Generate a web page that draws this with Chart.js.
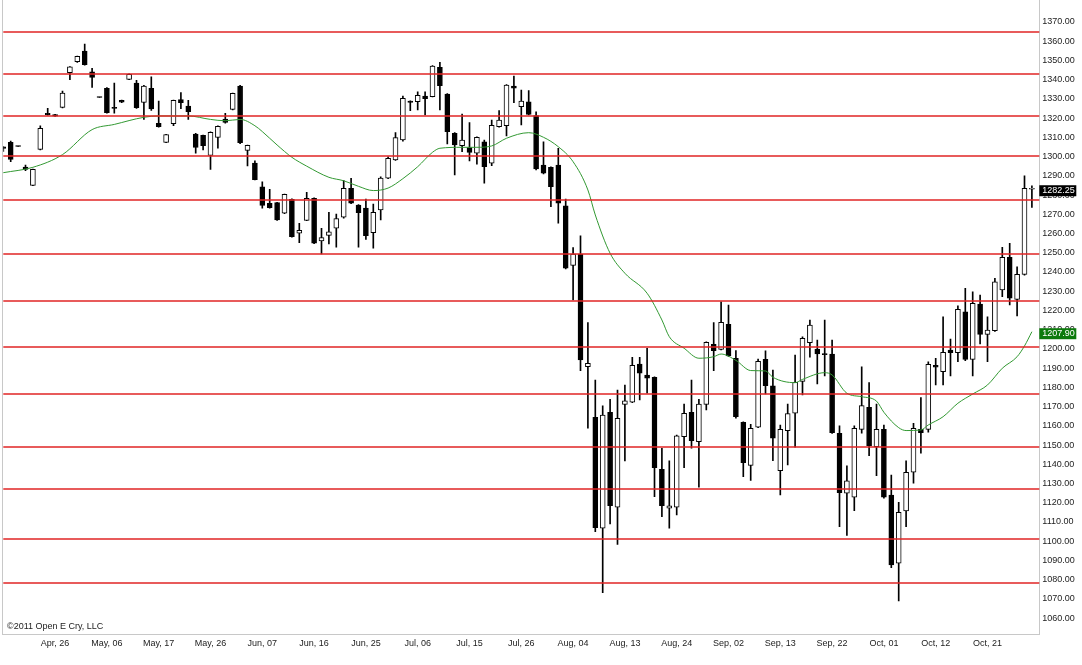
<!DOCTYPE html>
<html>
<head>
<meta charset="utf-8">
<title>Daily candles Apr - Oct 2011</title>
<script src="https://cdn.jsdelivr.net/npm/chart.js@4.4.0/dist/chart.umd.min.js"></script>
<style>
html, body { margin: 0; padding: 0; background: #fff; }
#wrap { position: relative; width: 1082px; height: 665px; }
</style>
</head>
<body>
<div id="wrap"><canvas id="chart"></canvas></div>
<script>
// date ticks, one every 7 bars starting at bar 7
const dateLabels = ['Apr, 26', 'May, 06', 'May, 17', 'May, 26', 'Jun, 07', 'Jun, 16', 'Jun, 25', 'Jul, 06', 'Jul, 15', 'Jul, 26',
  'Aug, 04', 'Aug, 13', 'Aug, 24', 'Sep, 02', 'Sep, 13', 'Sep, 22', 'Oct, 01', 'Oct, 12', 'Oct, 21'];

const open = [1304.0, 1306.4, 1304.4, 1293.5, 1284.0, 1302.7, 1321.5, 1320.8, 1324.6, 1342.6,
  1348.3, 1353.9, 1343.0, 1329.9, 1334.5, 1324.5, 1328.2, 1339.1, 1337.2, 1327.2,
  1334.5, 1316.3, 1306.4, 1316.1, 1328.6, 1325.3, 1310.7, 1310.0, 1299.6, 1309.0,
  1318.5, 1323.5, 1335.7, 1302.2, 1295.6, 1283.2, 1274.7, 1275.0, 1269.5, 1276.7,
  1259.1, 1265.8, 1277.3, 1255.1, 1258.0, 1261.7, 1267.4, 1282.5, 1273.8, 1272.2,
  1259.4, 1271.2, 1287.7, 1297.2, 1307.6, 1327.8, 1327.5, 1330.5, 1330.1, 1345.4,
  1331.5, 1311.1, 1304.7, 1303.6, 1300.7, 1306.6, 1295.5, 1314.5, 1315.0, 1335.7,
  1324.9, 1327.4, 1320.3, 1294.6, 1293.4, 1294.6, 1273.3, 1242.4, 1248.1, 1189.7,
  1163.4, 1105.7, 1166.0, 1116.6, 1170.1, 1171.2, 1191.1, 1185.4, 1184.2, 1136.3,
  1116.1, 1116.6, 1153.3, 1166.0, 1150.7, 1170.1, 1201.3, 1198.7, 1211.7, 1194.1,
  1160.8, 1138.4, 1158.2, 1193.5, 1179.7, 1135.6, 1156.5, 1165.5, 1182.1, 1202.2,
  1198.9, 1196.3, 1196.3, 1155.1, 1123.9, 1121.8, 1157.1, 1168.6, 1148.1, 1157.1,
  1123.0, 1087.5, 1114.7, 1134.8, 1157.1, 1157.1, 1190.4, 1187.1, 1198.4, 1197.0,
  1218.3, 1193.5, 1222.3, 1206.5, 1208.5, 1229.6, 1246.6, 1224.7, 1237.7, 1282.0];

const high = [1304.2, 1307.0, 1304.4, 1294.6, 1292.5, 1315.0, 1324.0, 1320.9, 1333.1, 1345.8,
  1351.3, 1357.5, 1344.9, 1329.9, 1334.8, 1337.2, 1328.3, 1342.0, 1338.6, 1336.0,
  1340.4, 1327.9, 1310.6, 1328.4, 1332.2, 1328.2, 1311.0, 1310.2, 1311.8, 1315.0,
  1321.5, 1332.0, 1336.0, 1305.0, 1296.7, 1285.9, 1281.9, 1275.2, 1279.5, 1277.0,
  1264.3, 1280.4, 1277.5, 1261.7, 1270.0, 1269.1, 1286.5, 1287.7, 1274.0, 1276.9,
  1274.3, 1288.5, 1298.9, 1311.4, 1330.5, 1328.0, 1332.7, 1332.7, 1346.3, 1348.0,
  1331.7, 1311.5, 1321.1, 1316.6, 1309.2, 1307.6, 1318.0, 1322.9, 1336.4, 1340.9,
  1333.6, 1333.3, 1322.3, 1306.6, 1293.6, 1303.3, 1276.9, 1251.6, 1257.7, 1212.6,
  1182.8, 1169.3, 1172.7, 1177.6, 1180.2, 1194.6, 1194.6, 1199.3, 1184.4, 1147.3,
  1140.7, 1154.2, 1170.3, 1182.8, 1172.7, 1202.6, 1212.6, 1223.5, 1221.8, 1198.1,
  1161.0, 1159.7, 1193.7, 1197.9, 1188.0, 1159.4, 1170.3, 1195.8, 1205.3, 1214.0,
  1203.6, 1214.0, 1203.6, 1158.9, 1138.1, 1158.9, 1189.7, 1181.4, 1170.3, 1159.4,
  1133.4, 1119.2, 1140.8, 1160.3, 1173.6, 1192.3, 1194.1, 1215.7, 1204.1, 1221.3,
  1230.5, 1228.7, 1227.0, 1215.7, 1235.7, 1251.8, 1253.9, 1241.7, 1288.9, 1283.7];

const low = [1301.6, 1296.3, 1304.2, 1291.6, 1283.8, 1302.5, 1320.5, 1319.8, 1324.3, 1339.0,
  1348.0, 1346.5, 1335.0, 1329.7, 1321.5, 1321.5, 1327.0, 1339.0, 1324.0, 1318.3,
  1323.0, 1314.3, 1306.2, 1315.0, 1323.9, 1318.3, 1300.7, 1302.4, 1292.3, 1303.3,
  1316.3, 1323.3, 1305.7, 1294.1, 1286.8, 1272.1, 1272.2, 1265.8, 1269.3, 1257.0,
  1254.2, 1265.6, 1253.7, 1248.3, 1253.5, 1251.8, 1266.9, 1274.5, 1251.8, 1255.9,
  1251.3, 1266.0, 1287.5, 1297.0, 1307.0, 1322.9, 1323.2, 1320.6, 1330.0, 1323.2,
  1305.5, 1289.4, 1301.5, 1296.7, 1295.0, 1285.1, 1294.2, 1314.3, 1309.7, 1327.0,
  1315.4, 1320.6, 1292.0, 1290.0, 1272.9, 1264.3, 1240.5, 1224.4, 1187.6, 1157.7,
  1103.9, 1072.2, 1107.9, 1097.3, 1140.7, 1171.0, 1172.4, 1175.9, 1122.1, 1111.7,
  1105.7, 1112.6, 1137.2, 1147.3, 1127.0, 1167.2, 1187.6, 1198.4, 1195.0, 1162.9,
  1132.5, 1130.6, 1158.0, 1175.5, 1140.8, 1123.0, 1138.6, 1147.8, 1175.0, 1194.6,
  1180.7, 1184.9, 1155.0, 1106.5, 1101.9, 1114.8, 1155.1, 1143.5, 1133.1, 1121.3,
  1085.2, 1067.9, 1106.5, 1129.1, 1144.7, 1155.6, 1180.2, 1180.2, 1184.9, 1192.3,
  1192.9, 1184.9, 1201.5, 1192.3, 1208.0, 1226.1, 1221.8, 1216.1, 1237.3, 1272.6];

const close = [1303.2, 1297.5, 1304.2, 1292.3, 1292.3, 1313.7, 1320.8, 1320.0, 1332.0, 1345.6,
  1351.1, 1346.8, 1340.2, 1329.7, 1321.8, 1324.0, 1327.3, 1341.7, 1324.4, 1335.7,
  1323.7, 1314.5, 1310.4, 1328.2, 1327.0, 1322.3, 1303.8, 1304.7, 1311.6, 1314.7,
  1316.8, 1331.9, 1306.2, 1304.8, 1287.0, 1273.6, 1272.4, 1266.0, 1279.3, 1257.3,
  1260.6, 1277.3, 1253.9, 1256.8, 1259.9, 1266.7, 1282.5, 1274.7, 1269.8, 1257.9,
  1270.0, 1287.8, 1298.1, 1308.8, 1329.3, 1327.2, 1330.8, 1329.1, 1346.1, 1335.9,
  1311.9, 1305.0, 1307.6, 1301.2, 1309.0, 1293.7, 1315.2, 1318.0, 1336.2, 1334.5,
  1327.9, 1320.9, 1292.5, 1290.3, 1283.3, 1274.7, 1240.9, 1248.3, 1193.2, 1191.5,
  1106.0, 1164.6, 1117.4, 1162.9, 1171.9, 1190.4, 1186.3, 1183.7, 1137.2, 1117.4,
  1117.3, 1153.7, 1165.5, 1151.3, 1170.3, 1202.4, 1198.1, 1212.8, 1195.3, 1163.7,
  1139.8, 1157.7, 1192.5, 1179.9, 1152.5, 1157.1, 1165.3, 1181.6, 1204.5, 1211.4,
  1196.3, 1196.0, 1155.4, 1124.2, 1130.4, 1157.7, 1169.5, 1148.6, 1157.1, 1121.8,
  1086.6, 1114.0, 1134.8, 1157.7, 1155.4, 1190.9, 1189.4, 1197.2, 1197.0, 1219.5,
  1193.5, 1222.7, 1206.5, 1208.8, 1233.9, 1246.6, 1225.3, 1237.7, 1282.5, 1282.25];

// moving average (null = not read at that bar)
const maValues = [
  1290.6, null, null, null, 1293.4, null, null, null, 1300.0, null,
  null, null, 1313.0, null, null, 1315.7, null, null, null, 1319.4,
  null, 1320.1, null, null, null, 1320.1, null, null, 1318.3, null,
  1317.6, null, 1318.3, null, 1315.0, null, 1308.5, 1305.0, null, 1298.6,
  null, 1294.0, null, null, 1288.2, null, 1286.4, null, 1283.5, null,
  1281.3, null, 1282.6, null, 1287.5, null, 1293.7, null, 1301.2, 1303.3,
  null, null, 1303.8, null, 1303.8, null, 1304.5, null, 1308.5, null,
  null, 1311.4, null, 1309.0, null, 1304.1, null, 1296.3, null, 1281.6,
  1268.6, null, 1248.7, null, 1238.3, null, null, 1227.9, null, 1214.0,
  1205.3, null, 1199.3, null, 1194.1, null, 1194.9, 1196.3, null, 1193.0,
  null, 1187.7, null, 1187.5, 1184.2, null, null, 1181.4, 1183.1, null,
  null, 1186.6, 1185.4, null, 1175.9, null, 1174.1, null, 1171.8, 1166.0,
  null, 1158.0, 1156.5, null, 1156.8, 1159.4, null, 1163.7, null, 1170.7,
  null, 1175.5, null, 1180.2, null, 1188.9, null, 1194.9, 1200.5, 1207.9];

// horizontal red levels
const levels = [1363.9, 1341.8, 1320.3, 1299.3, 1276.3, 1248.1, 1224.0, 1199.8, 1175.3, 1148.1, 1125.9, 1099.9, 1077.0];

const priceTicks = [1060, 1070, 1080, 1090, 1100, 1110, 1120, 1130, 1140, 1150, 1160, 1170, 1180, 1190, 1200, 1210,
  1220, 1230, 1240, 1250, 1260, 1270, 1280, 1290, 1300, 1310, 1320, 1330, 1340, 1350, 1360, 1370];

const FONT = '"Liberation Sans", Arial, sans-serif';
const nBars = open.length;

// one spare slot at the right so the last candle sits one step in from the frame
const labels = [];
for (let i = 0; i <= nBars; i++) {
  const k = (i - 7) / 7;
  labels.push(i >= 7 && Number.isInteger(k) && k < dateLabels.length ? dateLabels[k] : '');
}

const wicks = open.map((o, i) => [low[i], high[i]]);
const bodies = open.map((o, i) => [Math.min(o, close[i]), Math.max(o, close[i])]);
const bodyColors = open.map((o, i) => (close[i] >= o ? '#ffffff' : '#000000'));

const framePlugin = {
  id: 'frame',
  beforeDatasetsDraw(chart) {
    const { ctx, chartArea: a } = chart;
    ctx.save();
    ctx.strokeStyle = '#c8c8c8';
    ctx.lineWidth = 1;
    ctx.strokeRect(Math.round(a.left) - 0.5, -1, Math.round(a.right) - Math.round(a.left) + 1, Math.round(a.bottom) + 0.5 + 1);
    ctx.restore();
  },
  afterDatasetsDraw(chart) {
    const { ctx, chartArea: a, scales } = chart;
    ctx.save();
    ctx.strokeStyle = '#e02424';
    ctx.lineWidth = 1.6;
    levels.forEach((v) => {
      const y = Math.round(scales.y.getPixelForValue(v));
      ctx.beginPath();
      ctx.moveTo(a.left, y);
      ctx.lineTo(a.right, y);
      ctx.stroke();
    });
    ctx.restore();
  },
  afterDraw(chart) {
    const { ctx, chartArea: a, scales } = chart;
    ctx.save();
    ctx.font = '9px ' + FONT;
    ctx.fillStyle = '#222';
    ctx.textBaseline = 'middle';
    ctx.textAlign = 'left';
    ctx.fillText('\u00A92011 Open E Cry, LLC', 7, 627);

    const boxes = [
      { value: close[nBars - 1], bg: '#000000' },
      { value: maValues[nBars - 1], bg: '#0c7a0c' },
    ];
    boxes.forEach((b) => {
      const y = scales.y.getPixelForValue(b.value) + 2;
      ctx.fillStyle = b.bg;
      ctx.fillRect(a.right, y - 5.5, 37, 11);
      ctx.fillStyle = '#ffffff';
      ctx.fillText(b.value.toFixed(2), a.right + 3, y);
    });
    ctx.restore();
  },
};

new Chart(document.getElementById('chart'), {
  type: 'bar',
  data: {
    labels,
    datasets: [
      {
        type: 'line',
        label: 'MA',
        data: maValues,
        borderColor: '#339933',
        borderWidth: 1,
        pointRadius: 0,
        spanGaps: true,
        cubicInterpolationMode: 'monotone',
        order: 0,
      },
      {
        label: 'body',
        data: bodies,
        backgroundColor: bodyColors,
        borderColor: '#000000',
        borderWidth: 1,
        borderSkipped: false,
        barThickness: 5,
        minBarLength: 1,
        grouped: false,
        order: 1,
      },
      {
        label: 'wick',
        data: wicks,
        backgroundColor: '#000000',
        borderWidth: 0,
        barThickness: 1,
        grouped: false,
        order: 2,
      },
    ],
  },
  options: {
    responsive: true,
    maintainAspectRatio: false,
    animation: false,
    layout: { padding: { left: 3.3, top: 0, right: 0, bottom: 0 } },
    plugins: {
      legend: { display: false },
      tooltip: { enabled: false },
    },
    scales: {
      x: {
        type: 'category',
        offset: false,
        grid: { display: false, drawTicks: false },
        border: { display: false },
        ticks: {
          autoSkip: false,
          maxRotation: 0,
          padding: 4,
          color: '#222',
          font: { family: FONT, size: 9 },
        },
        afterFit(scale) {
          scale.height = 31;
          scale.paddingLeft = 0;
          scale.paddingRight = 0;
        },
      },
      y: {
        position: 'right',
        min: 1050.7,
        max: 1380.4,
        grid: { display: false, drawTicks: false },
        border: { display: false },
        afterBuildTicks(scale) {
          scale.ticks = priceTicks.map((v) => ({ value: v }));
        },
        ticks: {
          padding: 3,
          labelOffset: 2,
          color: '#222',
          font: { family: FONT, size: 9 },
          callback: (v) => Number(v).toFixed(2),
        },
        afterFit(scale) {
          scale.width = 42.7;
          scale.paddingTop = 0;
          scale.paddingBottom = 0;
        },
      },
    },
  },
  plugins: [framePlugin],
});
</script>
</body>
</html>
